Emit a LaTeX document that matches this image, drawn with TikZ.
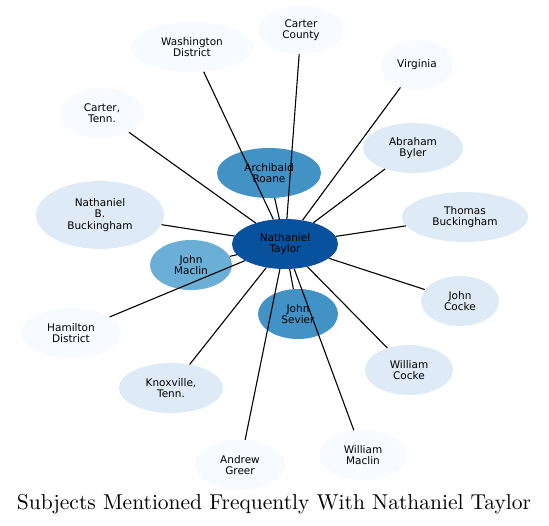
\documentclass[tikz,border=0pt]{standalone}
\usepackage{fontspec}
\newfontfamily\subjfont{DejaVu Sans}
\newfontfamily\titlefont{lmroman10-regular.otf}
\usetikzlibrary{shapes.geometric}
\definecolor{blueA}{HTML}{F7FBFF}
\definecolor{blueB}{HTML}{DEEBF7}
\definecolor{blueC}{HTML}{6BAED6}
\definecolor{blueD}{HTML}{4292C6}
\definecolor{blueE}{HTML}{08519C}

\begin{document}
\begin{tikzpicture}[x=1pt,y=-1pt]
\tikzstyle{subj}=[ellipse,draw=none,inner sep=0pt,align=center,font=\subjfont\fontsize{10.5}{11.5}\selectfont]
\tikzstyle{link}=[line width=1.1pt,black]
\useasboundingbox (0,0) rectangle (549,525);
% subjects
\foreach \n/\x/\y/\w/\h/\c/\t in {
  nt/285/244/106/50/blueE/{Nathaniel\\Taylor},
  ar/269/173/104/50/blueD/{Archibald\\Roane},
  js/298/314/80/50/blueD/{John\\Sevier},
  jm/191/265/82/50/blueC/{John\\Maclin},
  nbb/100/215/128/68/blueB/{Nathaniel\\B.\\Buckingham},
  wd/192/47/122/50/blueA/{Washington\\District},
  cco/301/30/86/48/blueA/{Carter\\County},
  va/417/65/72/50/blueA/{Virginia},
  ab/413/148/100/50/blueB/{Abraham\\Byler},
  tb/465/217/126/50/blueB/{Thomas\\Buckingham},
  jc/460/301/78/50/blueB/{John\\Cocke},
  wc/409/370/88/50/blueB/{William\\Cocke},
  wm/363/455/88/50/blueA/{William\\Maclin},
  ag/240/465/90/50/blueA/{Andrew\\Greer},
  kt/171/388/104/50/blueB/{Knoxville,\\Tenn.},
  hd/71/333/100/50/blueA/{Hamilton\\District},
  ct/102/113/84/50/blueA/{Carter,\\Tenn.}}
  { \node[subj,fill=\c,minimum width=\w pt,minimum height=\h pt] (\n) at (\x,\y) {\t}; }
% links to the centre
\foreach \n in {ar,js,jm,nbb,wd,cco,va,ab,tb,jc,wc,wm,ag,kt,hd,ct} { \draw[link] (nt) -- (\n); }
\node[font=\titlefont\fontsize{21.5}{24}\selectfont] (title) at (274,504) {Subjects Mentioned Frequently With Nathaniel Taylor};
\end{tikzpicture}
\end{document}
